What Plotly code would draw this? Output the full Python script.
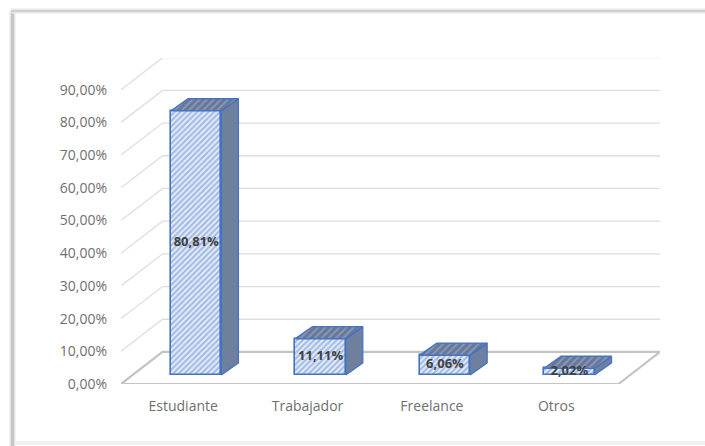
import plotly.graph_objects as go

W, H = 705, 446

categories = ["Estudiante", "Trabajador", "Freelance", "Otros"]
values = [80.81, 11.11, 6.06, 2.02]
value_labels = ["80,81%", "11,11%", "6,06%", "2,02%"]
y_ticks = [0, 10, 20, 30, 40, 50, 60, 70, 80, 90]
y_tick_labels = ["0,00%", "10,00%", "20,00%", "30,00%", "40,00%", "50,00%", "60,00%", "70,00%", "80,00%", "90,00%"]

GRID = "#dedede"
FLOOR = "#c4c4c4"
BLUE = "#4472c4"
TEXT = "#6f6f6f"

# oblique depth of the floor, in axis units
DEPTH_X = 0.334
DEPTH_Y = 9.8
# where the box sits in that depth, and how deep it is
BOX_X = 0.105
BOX_Y = 2.75
BOX_DX = 0.137
BOX_DY = 3.7
BAR_WIDTH = 0.405

x_range = [-0.5, 3.5 + DEPTH_X]
y_range = [0, 99.7]

fig = go.Figure()

# back wall grid, drawn on the lower axes so the bars cover it
for t in y_ticks[1:]:
    fig.add_trace(go.Scatter(
        x=[-0.5, -0.5 + DEPTH_X, 3.5 + DEPTH_X],
        y=[t, t + DEPTH_Y, t + DEPTH_Y],
        mode="lines", line=dict(color=GRID, width=1.3), cliponaxis=False,
        hoverinfo="skip", showlegend=False))

# floor
fig.add_trace(go.Scatter(
    x=[-0.5, -0.5 + DEPTH_X, 3.5 + DEPTH_X, 3.5, -0.5],
    y=[0, DEPTH_Y, DEPTH_Y, 0, 0],
    mode="lines", line=dict(color=FLOOR, width=2.2), cliponaxis=False,
    hoverinfo="skip", showlegend=False))

# boxes: front face is a real bar, side and top follow from its value
xs = [i + BOX_X for i in range(len(values))]
fig.add_trace(go.Bar(
    x=xs, y=values, base=BOX_Y, width=BAR_WIDTH, xaxis="x2", yaxis="y2",
    marker=dict(
        color="#ffffff",
        line=dict(color=BLUE, width=1.6),
        pattern=dict(shape="/", fgcolor="#5f86d0", bgcolor="#e9f0fa", size=4, solidity=0.55),
    ),
    hoverinfo="skip", showlegend=False))

for x, v in zip(xs, values):
    left = x - BAR_WIDTH / 2
    right = x + BAR_WIDTH / 2
    top = BOX_Y + v
    fig.add_trace(go.Scatter(
        x=[right, right + BOX_DX, right + BOX_DX, right, right],
        y=[BOX_Y, BOX_Y + BOX_DY, top + BOX_DY, top, BOX_Y],
        mode="lines", fill="toself", fillcolor="#6f7f9e",
        line=dict(color=BLUE, width=1.2),
        xaxis="x2", yaxis="y2", hoverinfo="skip", showlegend=False))
    fig.add_trace(go.Scatter(
        x=[left, left + BOX_DX, right + BOX_DX, right, left],
        y=[top, top + BOX_DY, top + BOX_DY, top, top],
        mode="lines", fill="toself",
        fillpattern=dict(shape="/", fgcolor="#aeb7ca", bgcolor="#66779a", size=5, solidity=0.4),
        line=dict(color=BLUE, width=1.4),
        xaxis="x2", yaxis="y2", hoverinfo="skip", showlegend=False))

fig.add_trace(go.Scatter(
    x=xs, y=[BOX_Y + v / 2 for v in values],
    text=value_labels, mode="text", textposition="middle center",
    textfont=dict(family="Open Sans", size=13, color="#404040", weight="bold"),
    xaxis="x2", yaxis="y2", hoverinfo="skip", showlegend=False))

x_domain = [121 / W, 660 / W]
y_domain = [1 - 384 / H, 1 - 58 / H]

fig.update_layout(
    width=W, height=H,
    margin=dict(l=0, r=0, t=0, b=0),
    autosize=False,
    paper_bgcolor="#ffffff",
    plot_bgcolor="rgba(0,0,0,0)",
    font=dict(family="Open Sans", size=14, color=TEXT),
    bargap=0,
    xaxis=dict(
        domain=x_domain, range=x_range, tickmode="array",
        tickvals=list(range(len(categories))), ticktext=categories,
        showgrid=False, zeroline=False, showline=False, ticks="", automargin=False,
        ticklabelstandoff=12, tickfont=dict(size=14, color=TEXT),
    ),
    yaxis=dict(
        domain=y_domain, range=y_range, tickmode="array",
        tickvals=y_ticks, ticktext=y_tick_labels,
        showgrid=False, zeroline=False, showline=False, ticks="", automargin=False,
        ticklabelstandoff=13, tickfont=dict(size=14, color=TEXT),
    ),
    xaxis2=dict(domain=x_domain, range=x_range, overlaying="x", visible=False),
    yaxis2=dict(domain=y_domain, range=y_range, overlaying="y", visible=False),
    # soft frame round the chart
    shapes=[
        dict(type="line", xref="paper", yref="paper", x0=12.5 / W, x1=12.5 / W, y0=0, y1=1 - 11 / H,
             line=dict(color="#e6e6e6", width=6), layer="below"),
        dict(type="line", xref="paper", yref="paper", x0=12.5 / W, x1=12.5 / W, y0=0, y1=1 - 11 / H,
             line=dict(color="#c6c6c6", width=3), layer="below"),
        dict(type="line", xref="paper", yref="paper", x0=11 / W, x1=1, y0=1 - 11 / H, y1=1 - 11 / H,
             line=dict(color="#e8e8e8", width=5), layer="below"),
        dict(type="line", xref="paper", yref="paper", x0=11 / W, x1=1, y0=1 - 11 / H, y1=1 - 11 / H,
             line=dict(color="#d0d0d0", width=2), layer="below"),
        dict(type="line", xref="paper", yref="paper", x0=16 / W, x1=1, y0=1 - 443 / H, y1=1 - 443 / H,
             line=dict(color="#f1f1f1", width=4), layer="below"),
    ],
)

# page margin off, so the figure fills the window
fig.write_html("out.html", config={"displayModeBar": False},
               post_script="document.body.style.margin = '0'; document.body.style.overflow = 'hidden';")
